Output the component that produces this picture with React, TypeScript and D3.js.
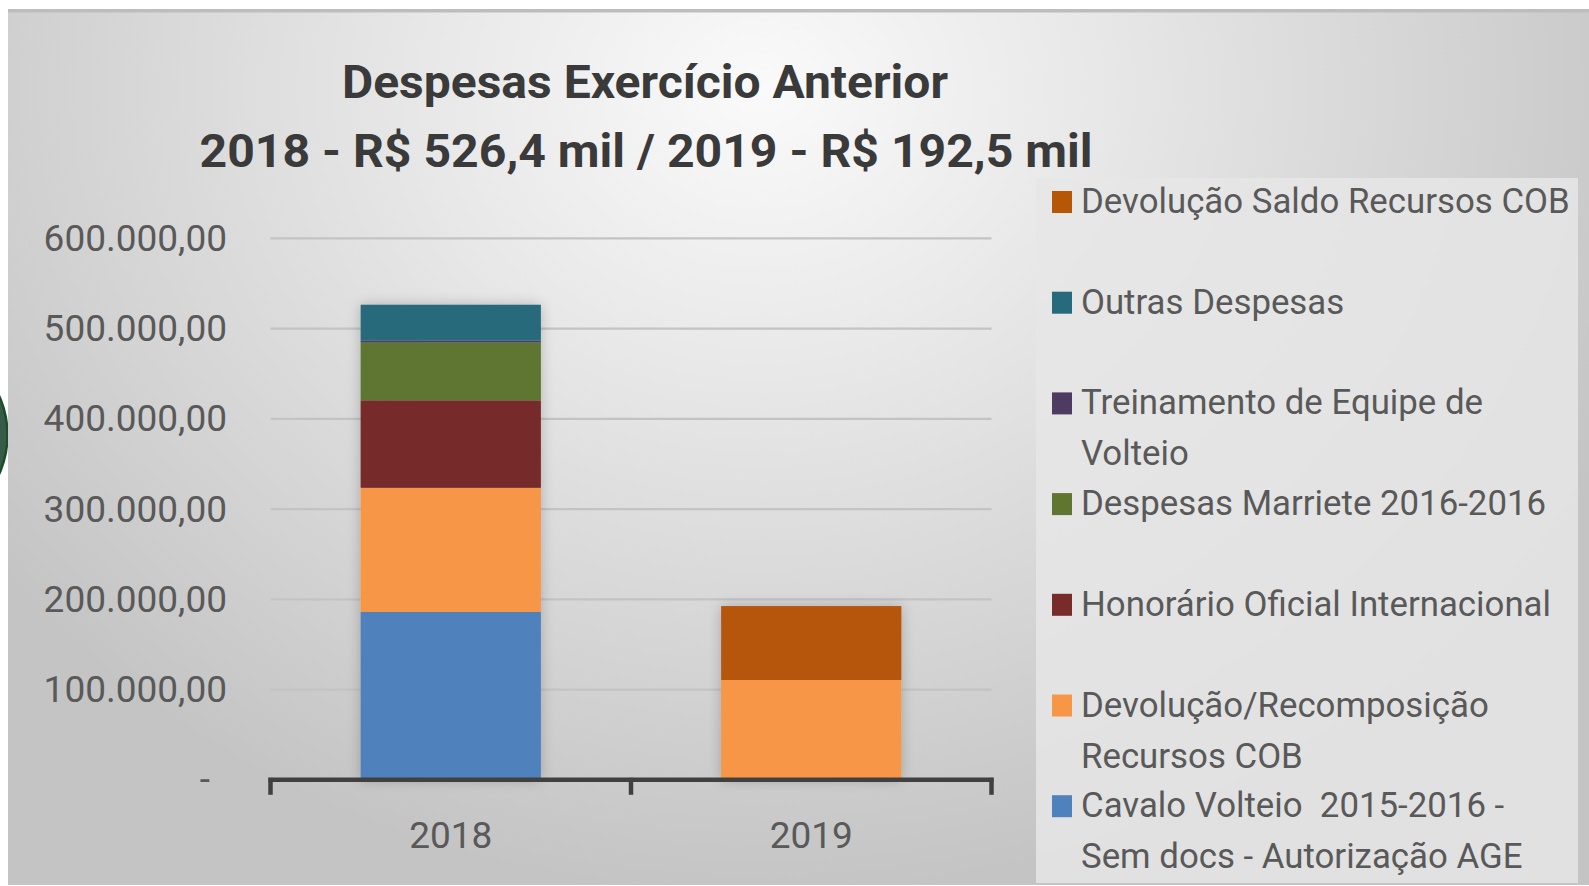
import React from "react";
import * as d3 from "d3";

const categories = ["2018", "2019"];
const seriesNames = [
  "Cavalo Volteio  2015-2016 - Sem docs - Autorização AGE",
  "Devolução/Recomposição Recursos COB",
  "Honorário Oficial Internacional",
  "Despesas Marriete 2016-2016",
  "Treinamento de Equipe de Volteio",
  "Outras Despesas",
  "Devolução Saldo Recursos COB",
];
// legend text lines (same order as seriesNames)
const legendLines = [
  ["Cavalo Volteio  2015-2016 -", "Sem docs - Autorização AGE"],
  ["Devolução/Recomposição", "Recursos COB"],
  ["Honorário Oficial Internacional"],
  ["Despesas Marriete 2016-2016"],
  ["Treinamento de Equipe de", "Volteio"],
  ["Outras Despesas"],
  ["Devolução Saldo Recursos COB"],
];
const values2018 = [186000, 137500, 97000, 64000, 2000, 39900, 0];
const values2019 = [0, 110600, 0, 0, 0, 0, 81900];
const seriesColors = ["#4f81bd", "#f79646", "#772c2a", "#5f7530", "#4d3b62", "#276a7c", "#b65708"];
const yTicks = [0, 100000, 200000, 300000, 400000, 500000, 600000];
const titleLines = ["Despesas Exercício Anterior", "2018 - R$ 526,4 mil / 2019 - R$ 192,5 mil"];

const W = 1589;
const H = 886;
const plot = { left: 270.5, right: 991.5, top: 238.3, bottom: 779.8 };
const FONT = "Roboto, 'Noto Sans', sans-serif";

const fmt = (v: number) =>
  v === 0
    ? "-"
    : d3.format(",.2f")(v).replace(/,/g, "#").replace(/\./g, ",").replace(/#/g, ".");

export default function App() {
  const rows = categories.map((c, i) => {
    const vals = i === 0 ? values2018 : values2019;
    const r: any = { cat: c };
    seriesNames.forEach((s, j) => (r[s] = vals[j]));
    return r;
  });
  const stacked = d3.stack<any>().keys(seriesNames)(rows);

  const x = d3
    .scaleBand<string>()
    .domain(categories)
    .range([plot.left, plot.right])
    .paddingInner(0.5)
    .paddingOuter(0.25);
  const y = d3.scaleLinear().domain([0, 600000]).range([plot.bottom, plot.top]);
  const step = x.step();
  const boundaries = d3.range(categories.length + 1).map((i) => plot.left + i * step);

  const legendOrder = d3.range(seriesNames.length).reverse();
  const legendTop = 213;
  const legendStep = 100.7;
  const lineH = 51;

  return (
    <svg
      width={W}
      height={H}
      style={{ position: "absolute", left: 0, top: 0, display: "block" }}
      fontFamily={FONT}
    >
      <defs>
        <radialGradient id="bg" gradientUnits="userSpaceOnUse" cx={760} cy={90} r={950}
          gradientTransform="translate(760 90) scale(1 0.85) translate(-760 -90)">
          <stop offset="0" stopColor="#fafafa" />
          <stop offset="0.35" stopColor="#e8e8e8" />
          <stop offset="0.75" stopColor="#d2d2d2" />
          <stop offset="1" stopColor="#c4c4c4" />
        </radialGradient>
        <filter id="shadow" x="-20%" y="-20%" width="140%" height="140%">
          <feGaussianBlur in="SourceAlpha" stdDeviation="7" />
          <feComponentTransfer>
            <feFuncA type="linear" slope="0.22" />
          </feComponentTransfer>
          <feMerge>
            <feMergeNode />
            <feMergeNode in="SourceGraphic" />
          </feMerge>
        </filter>
      </defs>
      <rect x={0} y={0} width={W} height={H} fill="#ffffff" />
      <circle cx={-87.5} cy={435} r={95} fill="#365c48" stroke="#1b4d2b" strokeWidth={2.5} />
      <rect x={8} y={9} width={W - 8} height={876} fill="url(#bg)" />
      <rect x={8} y={9} width={W - 8} height={3.5} fill="#bdbdbd" />

      {/* title */}
      <text x={645} y={98} textAnchor="middle" fontSize={46} fontWeight={700} fill="#3a3a3a"
        textLength={606} lengthAdjust="spacingAndGlyphs">
        {titleLines[0]}
      </text>
      <text x={646} y={166.5} textAnchor="middle" fontSize={47} fontWeight={700} fill="#3a3a3a"
        textLength={893} lengthAdjust="spacingAndGlyphs">
        {titleLines[1]}
      </text>

      {/* gridlines */}
      {yTicks.filter((t) => t > 0).map((t) => (
        <line key={t} x1={plot.left} x2={plot.right} y1={y(t)} y2={y(t)} stroke="#c3c3c3" strokeWidth={2.2} />
      ))}
      {/* y labels */}
      {yTicks.map((t) => (
        <text key={"l" + t} x={t === 0 ? 210 : 227} y={y(t) + 12.5} textAnchor="end" fontSize={37} fill="#595959">
          {fmt(t)}
        </text>
      ))}

      {/* bars */}
      <g filter="url(#shadow)">
        {stacked.map((layer, j) =>
          layer.map((d: any, i: number) =>
            d[1] - d[0] > 0 ? (
              <rect
                key={j + "-" + i}
                x={x(categories[i])}
                y={y(d[1])}
                width={x.bandwidth()}
                height={y(d[0]) - y(d[1])}
                fill={seriesColors[j]}
              />
            ) : null
          )
        )}
      </g>

      {/* x axis */}
      <line x1={plot.left - 2} x2={plot.right + 2} y1={plot.bottom} y2={plot.bottom} stroke="#404040" strokeWidth={4.5} />
      {boundaries.map((b, i) => (
        <line key={"t" + i} x1={b} x2={b} y1={plot.bottom - 2} y2={plot.bottom + 15} stroke="#404040" strokeWidth={4.5} />
      ))}
      {categories.map((c) => (
        <text key={c} x={(x(c) as number) + x.bandwidth() / 2} y={848} textAnchor="middle" fontSize={37} fill="#595959">
          {c}
        </text>
      ))}

      {/* legend */}
      <rect x={1036} y={178} width={542} height={705} fill="#e6e6e6" opacity={0.85} />
      {legendOrder.map((j, k) => {
        const base = legendTop + k * legendStep;
        return (
          <g key={"lg" + j}>
            <rect x={1052} y={base - 22} width={20} height={22} fill={seriesColors[j]} />
            {legendLines[j].map((ln, li) => (
              <text key={li} x={1081} y={base + li * lineH} fontSize={34.8} fill="#595959"
                style={{ whiteSpace: "pre" }}>
                {ln}
              </text>
            ))}
          </g>
        );
      })}
    </svg>
  );
}
